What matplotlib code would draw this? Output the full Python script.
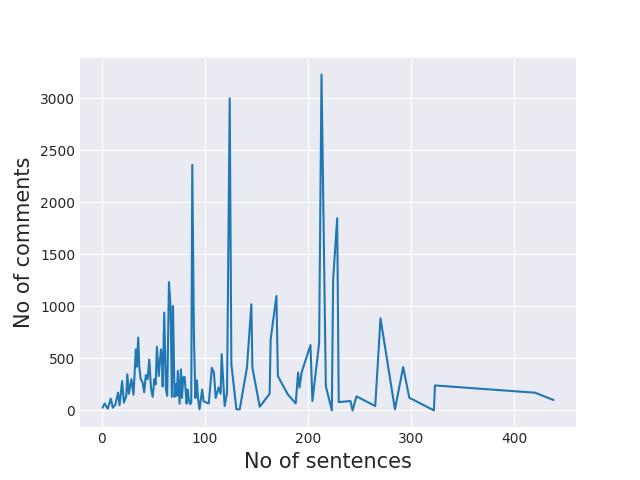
import numpy as np
import pandas as pd
import matplotlib
matplotlib.use('Agg')
import matplotlib.pyplot as plt

# number of sentences vs comments
sentences = [1, 3, 6, 9, 11, 13.5, 16, 17.5, 20, 21.7, 24, 25, 26.5, 29, 31, 33.3, 34.2, 35.6, 36.6,
             38, 39.8, 41.4, 43, 44.7, 46.3, 48, 49.6, 51.2, 52.5, 53.7, 55.5, 57.6, 58.6, 59.3,
             60.8, 62.5, 63.7, 65.4, 67, 68.2, 69.3, 70.8, 72, 73, 74, 75.7, 77, 78, 79.3, 80.6,
             82.5, 83.5, 84.7, 86, 87, 88, 89.6, 91, 92.5, 93.5, 95, 97.6, 99, 101, 104, 107,
             109, 110.7, 113.6, 115.5, 116.5, 119.4, 121.7, 124.3, 125.9, 130.8, 134, 141, 145.3,
             146.3, 153.4, 163, 164, 169.6, 171, 180.6, 188.3, 190.6, 192, 194, 202.6, 204.5,
             211, 213.3, 217.5, 223.3, 224.6, 228.5, 230, 241.4, 243.4, 247.2, 265.4, 270.5,
             284.5, 292.5, 298.4, 322.3, 323.3, 420.4, 438.2]
comments = [26, 67, 16, 112, 26, 58, 170, 50, 282, 74, 140, 346, 160, 300, 150, 587, 420, 700, 420,
            300, 270, 175, 340, 300, 490, 210, 130, 300, 250, 612, 330, 587, 490, 230,
            940, 200, 140, 1234, 990, 130, 1003, 130, 250, 140, 380, 65, 394, 120, 320, 320,
            65, 200, 100, 60, 80, 2360, 715, 120, 290, 120, 10, 200, 90, 77, 67, 410,
            362, 120, 220, 160, 540, 42, 170, 3000, 443, 10, 10, 410, 1020,
            410, 35, 160, 683, 1100, 330, 154, 67, 365, 220, 365, 628, 90,
            650, 3230, 234, 0, 1260, 1847, 80, 90, 0, 135, 42, 885,
            10, 417, 122, 0, 240, 170, 100]

df = pd.DataFrame({'sentences': sentences, 'comments': comments})

plt.style.use('seaborn-v0_8-darkgrid')
plt.rcParams['font.family'] = ['DejaVu Sans']
fig = plt.figure(figsize=(6.4, 4.8), dpi=100)
plt.plot(df['sentences'], df['comments'], color='#1f77b4')
plt.xlabel('No of sentences', fontsize=15)
plt.ylabel('No of comments', fontsize=15)
plt.savefig('out.png')
